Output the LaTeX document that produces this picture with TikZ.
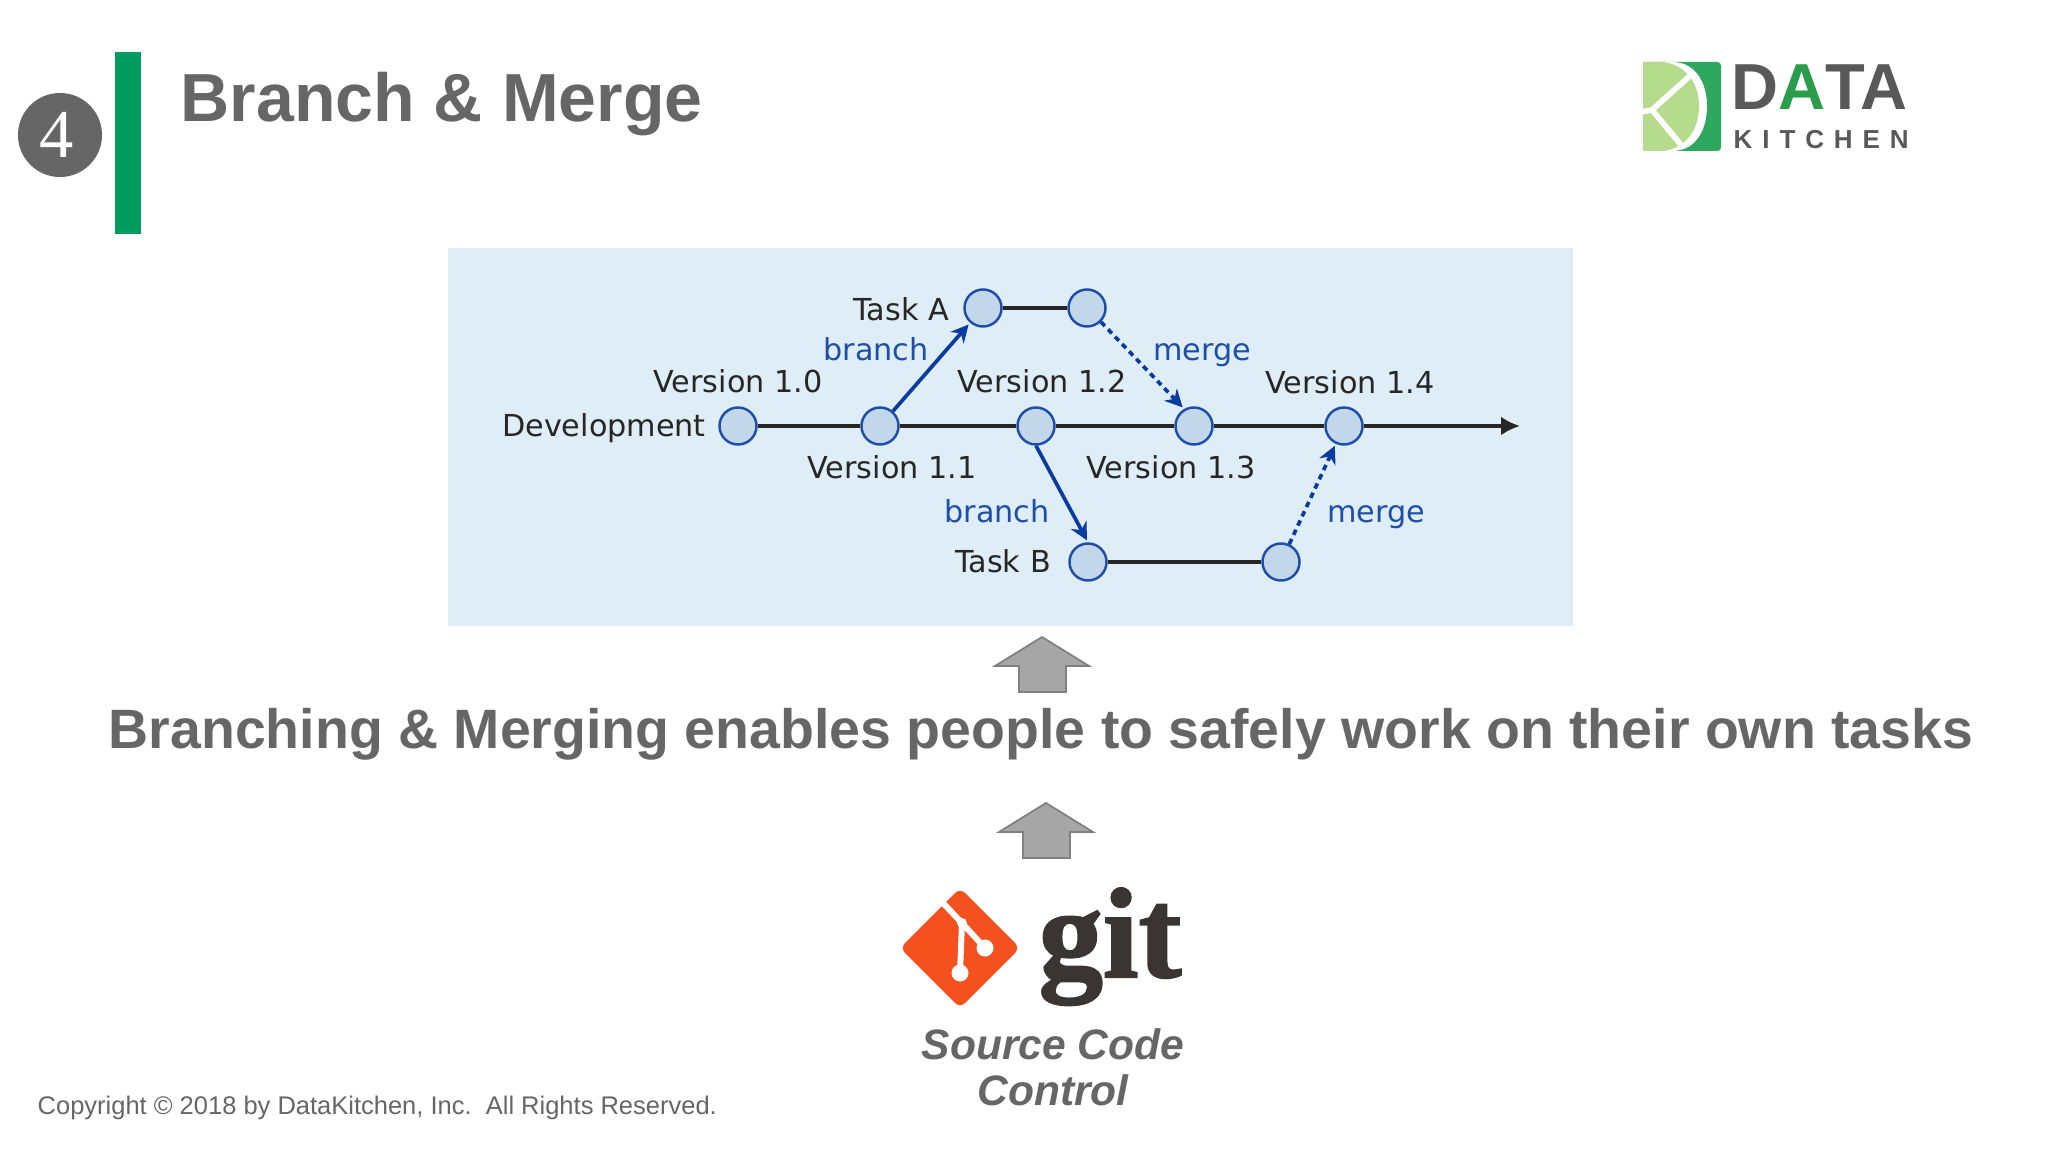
\documentclass[tikz,border=0pt]{standalone}
\usepackage{fontspec}
\setmainfont{Liberation Sans}
\newfontfamily\diagfont{DejaVu Sans}
\newfontfamily\numfont{Liberation Serif}
\newfontfamily\gitfont[FakeBold=1.6]{Liberation Serif}
\usetikzlibrary{arrows.meta}
\definecolor{slate}{HTML}{666666}
\definecolor{barGreen}{HTML}{009B5E}
\definecolor{logoDark}{HTML}{2FA85F}
\definecolor{logoText}{HTML}{2A9D4A}
\definecolor{logoLight}{HTML}{B5DC8C}
\definecolor{panelBlue}{HTML}{DEEDF6}
\definecolor{commitFill}{HTML}{C3D7EA}
\definecolor{commitBlue}{HTML}{1F4EA8}
\definecolor{arrowBlue}{HTML}{0B3BA0}
\definecolor{gitRed}{HTML}{F4511E}
\definecolor{gitDark}{HTML}{3A3533}
\tikzset{
  commit/.style={circle,draw=commitBlue,fill=commitFill,line width=0.7pt,minimum size=0.37cm,inner sep=0pt},
  trunk/.style={line width=1.1pt,black!85},
  branchline/.style={line width=1.05pt,arrowBlue,-{Stealth[length=5pt,width=5pt]},shorten >=0.6pt},
  mergeline/.style={branchline,dash pattern=on 1.6pt off 1.3pt},
  verlabel/.style={anchor=base,inner sep=0pt,font=\diagfont\fontsize{8.6}{10}\selectfont,black!85},
  bluelabel/.style={verlabel,text=commitBlue},
  bigarrow/.style={fill=black!35,draw=black!50,line width=0.5pt},
  heading/.style={anchor=base west,inner sep=0pt,text=slate,font=\bfseries\fontsize{19.35}{23}\selectfont}
}
\begin{document}
\begin{tikzpicture}[x=0.01cm,y=-0.01cm]
  \useasboundingbox[fill=white] (0,0) rectangle (2048,1152);
  % header
  \fill[barGreen] (115,52) rectangle (141,234);
  \node[circle,fill=slate,minimum size=0.84cm,inner sep=0pt,text=white,font=\numfont\fontsize{19.5}{21}\selectfont] (num) at (60,135) {4\kern1.7pt};
  \node[heading] (title) at (180,122) {Branch \& Merge};
  % logo
  \fill[logoDark,rounded corners=1pt] (1643,62) rectangle (1721,151);
  \fill[white] (1643,62) -- (1672,62) .. controls (1697,62) and (1707,85) .. (1707,106) .. controls (1707,128) and (1697,151) .. (1672,151) -- (1643,151) -- cycle;
  \fill[logoLight] (1643,62) -- (1664,62) .. controls (1688,66) and (1699,85) .. (1699,106) .. controls (1699,128) and (1688,147) .. (1664,151) -- (1643,151) -- cycle;
  \draw[white,line width=1.6pt] (1692,74) -- (1652,110) -- (1682,146);
  \draw[white,line width=1.6pt] (1641,112) -- (1652,110);
  \node[inner sep=0pt,anchor=base west,text=black!65,font=\bfseries\fontsize{18.5}{20}\selectfont] (data) at (1731,110) {D\textcolor{logoText}{A}TA};
  \node[inner sep=0pt,anchor=base west,text=black!65,font=\bfseries\fontsize{7.4}{9}\selectfont\addfontfeatures{LetterSpace=38}] (kitchen) at (1733,149) {KITCHEN};
  % version panel
  \fill[panelBlue] (448,248) rectangle (1573,626);
  \foreach \name/\x/\y in {v0/738/426,v1/880/426,v2/1036/426,v3/1194/426,v4/1344/426,a1/983/308,a2/1087/308,b1/1088/562,b2/1281/562}
    \node[commit] (\name) at (\x,\y) {};
  \coordinate (tip) at (1520,426);
  \draw[trunk] (v0) -- (v1);
  \draw[trunk] (v1) -- (v2);
  \draw[trunk] (v2) -- (v3);
  \draw[trunk] (v3) -- (v4);
  \draw[trunk,-{Latex[length=5.4pt,width=5.4pt]}] (v4) -- (tip);
  \draw[trunk] (a1) -- (a2);
  \draw[trunk] (b1) -- (b2);
  \draw[branchline] (v1) -- (a1);
  \draw[branchline] (v2.south) -- (b1.north);
  \draw[mergeline] (a2.south east) -- (v3.120);
  \draw[mergeline] (b2) -- (v4);
  \foreach \name/\x/\y/\txt in {ltaska/901/321/Task\ A,lv0/738/393/Version\ 1.0,lv2/1042/393/Version\ 1.2,lv4/1350/394/Version\ 1.4,ldev/604/437/Development,lv1/892/479/Version\ 1.1,lv3/1171/479/Version\ 1.3,ltaskb/1003/573/Task\ B}
    \node[verlabel] (\name) at (\x,\y) {\txt};
  \foreach \name/\x/\y/\txt in {lb1/876/361/branch,lm1/1202/361/merge,lb2/997/523/branch,lm2/1376/523/merge}
    \node[bluelabel] (\name) at (\x,\y) {\txt};
  % arrows and message
  \foreach \x/\y in {1042/637,1046/803}
    \draw[bigarrow,shift={(\x,\y)}] (0,0) -- (47,29) -- (24,29) -- (24,55) -- (-23,55) -- (-23,29) -- (-47,29) -- cycle;
  \node[anchor=base,inner sep=0pt,text=slate,font=\bfseries\fontsize{15.77}{19}\selectfont] (message) at (1041,748) {Branching \& Merging enables people to safely work on their own tasks};
  % git logo
  \fill[gitRed,rounded corners=2pt] (960,888) -- (1020,948) -- (960,1008) -- (900,948) -- cycle;
  \draw[white,line width=1.7pt] (943,903) -- (962,923) -- (960,973);
  \draw[white,line width=1.7pt] (962,923) -- (985,948);
  \fill[white] (960,973) circle (8.5) (985,948) circle (8.5) (962,923) circle (5);
  \node[anchor=base west,inner sep=0pt,text=gitDark,font=\gitfont\bfseries\fontsize{36.5}{38}\selectfont] (git) at (1038,977) {git};
  \node[anchor=base,inner sep=0pt,text=slate,font=\bfseries\itshape\fontsize{12.1}{14}\selectfont] (source) at (1053,1059) {Source Code};
  \node[anchor=base,inner sep=0pt,text=slate,font=\bfseries\itshape\fontsize{12.1}{14}\selectfont] (control) at (1053,1105) {Control};
  \node[anchor=base west,inner sep=0pt,text=slate,font=\fontsize{7.25}{9}\selectfont] (copy) at (37,1114) {Copyright © 2018 by DataKitchen, Inc.\ \ All Rights Reserved.};
\end{tikzpicture}
\end{document}
